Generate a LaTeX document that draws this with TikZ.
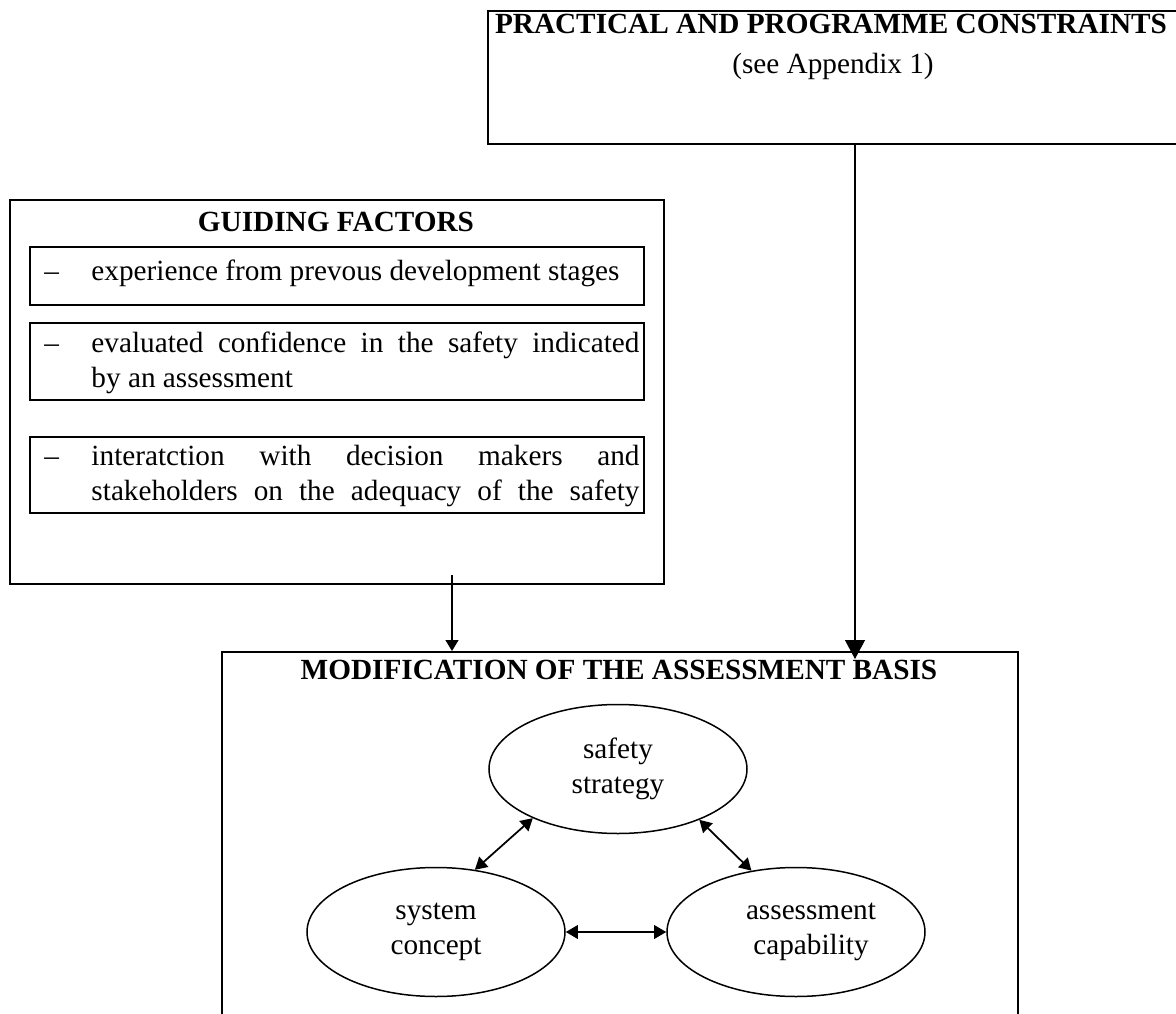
\documentclass[tikz,border=0pt]{standalone}
\usepackage{fontspec}
\setmainfont{Liberation Serif}
\usetikzlibrary{arrows.meta,shapes.geometric}
\newcommand{\itemdash}{\llap{--\hspace{13pt}}}
\tikzset{
  frame/.style={draw, line width=0.7pt, inner sep=0pt, anchor=north west},
  factor/.style={text width=219.2pt, align=justify, inner sep=0pt, anchor=west},
  part/.style={draw, ellipse, line width=0.6pt, minimum width=103.2pt,
    minimum height=51.6pt, inner sep=0pt, align=center},
  link/.style={line width=0.7pt,
    {Triangle[length=4.8pt,width=5.4pt]}-{Triangle[length=4.8pt,width=5.4pt]}},
  feed/.style={line width=0.5pt, -{Triangle[length=4.4pt,width=5.2pt]}},
}

\begin{document}
\fontsize{11.7pt}{14pt}\selectfont
\begin{tikzpicture}[x=0.4pt, y=-0.4pt]
\useasboundingbox (0,0) rectangle (1176,1014);
\clip (0,0) rectangle (1176,1014);

% practical and programme constraints
\node[frame, minimum width=281.2pt, minimum height=53.2pt] (constraints) at (487,10) {};
\node[font=\bfseries] (constraints title) at (831,24) {PRACTICAL AND PROGRAMME CONSTRAINTS};
\node (constraints note) at (833,66) {(see Appendix 1)};

% guiding factors
\node[frame, minimum width=261.6pt, minimum height=153.6pt] (guiding) at (9,199) {};
\node[font=\bfseries] (guiding title) at (336,222) {GUIDING FACTORS};
\node[frame, minimum width=245.6pt, minimum height=23.2pt] (factor 1) at (29,246) {};
\node[frame, minimum width=245.6pt, minimum height=30.8pt] (factor 2) at (29,322) {};
\node[frame, minimum width=245.6pt, minimum height=30.4pt] (factor 3) at (29,436) {};
\node[factor] (factor 1 text) at (91,273)
  {\itemdash experience from prevous development stages};
\node[factor] (factor 2 text) at (91,363)
  {\itemdash evaluated confidence in the safety indicated\linebreak by an assessment};
\node[factor] (factor 3 text) at (91,476)
  {\parfillskip=0pt \itemdash interatction with decision makers and\linebreak
   stakeholders on the adequacy of the safety\par};

% modification of the assessment basis
\node[frame, minimum width=318.4pt, minimum height=160pt] (modification) at (221,651) {};
\node[font=\bfseries] (modification title) at (619,670) {MODIFICATION OF THE ASSESSMENT BASIS};
\node[part] (safety) at (618,769) {safety\\strategy};
\node[part] (system) at (436,932) {system\\concept};
\node[part] (capability) at (796,932) {\hspace*{12pt}assessment\\\hspace*{12pt}capability};

% links between the parts
\draw[link] (system.58) -- (safety.210);
\draw[link] (safety.328) -- (capability.126);
\draw[link] (system) -- (capability);

% inputs
\coordinate (guiding out) at (452,575);
\coordinate (constraints out) at (855,143);
\draw[feed] (guiding out) -- (guiding out |- modification.north);
\draw[line width=0.5pt, -{Triangle[length=7.6pt,width=8pt]}, shorten >=-3.2pt]
  (constraints out) -- (constraints out |- modification.north);

\end{tikzpicture}
\end{document}
